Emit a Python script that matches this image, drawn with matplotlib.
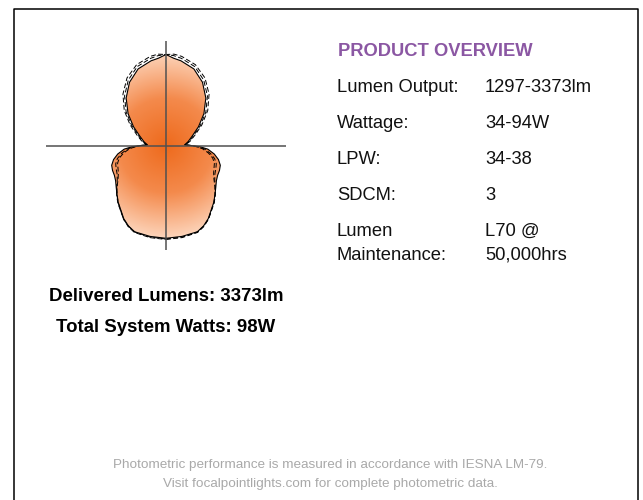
import numpy as np
import matplotlib
matplotlib.use("Agg")
import matplotlib.pyplot as plt
from matplotlib.patches import Polygon
from matplotlib.colors import LinearSegmentedColormap
from matplotlib.lines import Line2D

plt.rcParams['font.family'] = ['Liberation Sans', 'DejaVu Sans']

# photometric curve, angle from nadir (deg) and relative intensity
angles = [0, 10, 20, 25, 30, 40, 45, 50, 55, 60, 65, 70, 75, 80, 85, 88, 90,
          92, 95, 100, 110, 120, 130, 140, 150, 160, 170, 175, 180]
solid = [92.8, 92.3, 91.8, 88.8, 84.5, 74.3, 69.3, 65.0, 61.5, 59.6, 59.0, 57.8, 54.3, 49.0, 42.0, 34.0, 25.0,
         18.5, 20.0, 22.5, 28.0, 37.5, 49.5, 62.0, 73.0, 81.5, 86.0, 87.6, 91.0]
dashed_a = [93.5, 93.0, 92.0, 89.0, 85.0, 75.0, 69.8, 64.3, 59.5, 56.5, 55.0, 53.5, 50.3, 45.0, 38.5, 31.0, 25.0,
            19.0, 20.5, 23.5, 29.5, 39.5, 52.0, 64.5, 75.5, 84.0, 88.5, 90.2, 91.0]
dashed_b = [94.0, 93.5, 92.5, 89.5, 85.0, 74.5, 69.3, 63.8, 58.5, 55.0, 53.0, 51.5, 48.3, 43.0, 36.5, 30.0, 25.0,
            19.5, 21.0, 24.5, 31.0, 41.5, 54.5, 67.0, 78.0, 86.0, 90.5, 91.7, 91.0]

overview_labels = ["Lumen Output:", "Wattage:", "LPW:", "SDCM:", "Lumen\nMaintenance:"]
overview_values = ["1297-3373lm", "34-94W", "34-38", "3", "L70 @\n50,000hrs"]
delivered = "Delivered Lumens: 3373lm"
system_watts = "Total System Watts: 98W"
footer = ["Photometric performance is measured in accordance with IESNA LM-79.",
          "Visit focalpointlights.com for complete photometric data."]


def outline(r):
    t = np.radians(angles)
    r = np.asarray(r)
    x = np.concatenate([r * np.sin(t), -(r * np.sin(t))[::-1]])
    y = np.concatenate([-r * np.cos(t), (-r * np.cos(t))[::-1]])
    return x, y


W, H = 643, 500
fig = plt.figure(figsize=(W / 100, H / 100), dpi=100)

# page axes in pixel units
ax = fig.add_axes([0, 0, 1, 1])
ax.set_xlim(0, W)
ax.set_ylim(H, 0)
ax.axis('off')

# frame, open at the bottom
ax.add_line(Line2D([13.5, 13.5, 638, 638], [H + 5, 9, 9, H + 5], color='black', lw=1.1))

# product overview
purple = '#8b57a3'
ax.text(338, 56, "PRODUCT OVERVIEW", fontsize=13.2, fontweight='bold', color=purple)
row_y = [92.5, 128, 164, 199.5, 236]
for lab, val, y in zip(overview_labels, overview_values, row_y):
    for i, (l, v) in enumerate(zip(lab.split("\n"), val.split("\n"))):
        ax.text(337, y + 24 * i, l, fontsize=13.2, color='#111111', va='baseline')
        ax.text(485, y + 24 * i, v, fontsize=13.2, color='#111111', va='baseline')

ax.text(166, 301, delivered, fontsize=13.4, fontweight='bold', ha='center', va='baseline')
ax.text(166, 332, system_watts, fontsize=13.4, fontweight='bold', ha='center', va='baseline')

ax.text(330, 468, footer[0], fontsize=9.7, color='#a9a9a9', ha='center', va='baseline')
ax.text(330, 487, footer[1], fontsize=9.7, color='#a9a9a9', ha='center', va='baseline')

# photometric plot
px0, px1, py0, py1 = 46, 286, 41, 250
pax = fig.add_axes([px0 / W, 1 - py1 / H, (px1 - px0) / W, (py1 - py0) / H])
hw, hh = (px1 - px0) / 2, (py1 - py0) / 2
pax.set_xlim(-hw, hw)
pax.set_ylim(-hh, hh)
pax.axis('off')

sx, sy = outline(solid)
poly = Polygon(np.column_stack([sx, sy]), closed=True, facecolor='none', edgecolor='none')
pax.add_patch(poly)

cmap = LinearSegmentedColormap.from_list('glow', ['#ee6a1c', '#f48a4c', '#fdd8c0'])
gx, gy = np.meshgrid(np.linspace(-hw, hw, 400), np.linspace(-hh, hh, 350))
grad = np.clip(np.hypot(gx, gy) / 95, 0, 1)
im = pax.imshow(grad, extent=[-hw, hw, -hh, hh], origin='lower', cmap=cmap,
                vmin=0, vmax=1, interpolation='bilinear', zorder=1)
im.set_clip_path(poly)

for r in (dashed_a, dashed_b):
    dx, dy = outline(r)
    pax.plot(dx, dy, color='black', lw=0.7, ls=(0, (5, 2.5)), zorder=2)
pax.plot(sx, sy, color='black', lw=0.8, zorder=3)

pax.axhline(0, color='#505050', lw=1.1, zorder=4)
pax.axvline(0, color='#505050', lw=1.1, zorder=4)

fig.savefig('out.png', dpi=100)
